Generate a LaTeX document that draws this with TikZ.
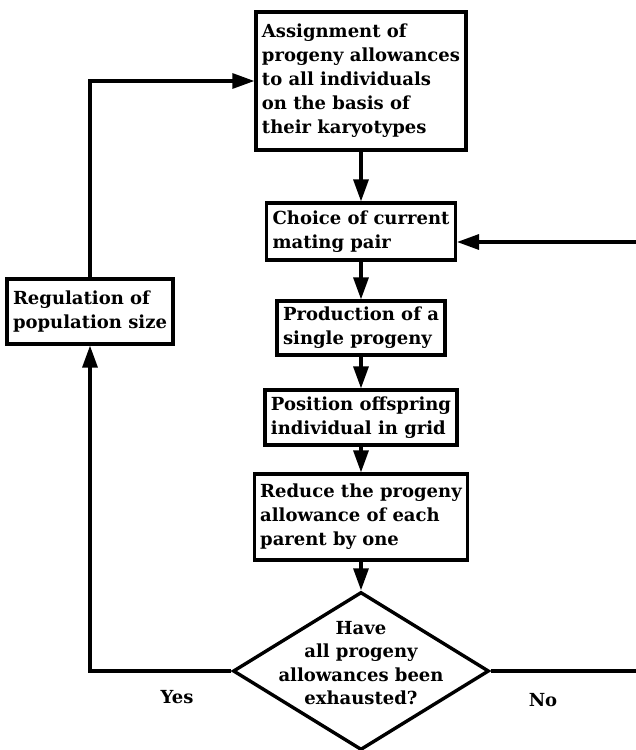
\documentclass[tikz,border=0pt]{standalone}
\usepackage{fontspec}
\setmainfont{DejaVu Serif}
\usetikzlibrary{shapes.geometric,arrows.meta}
\tikzstyle{node_box} = [rectangle, draw, line width=3.2pt, align=left, inner xsep=6pt, inner ysep=0pt, font=\fontsize{18}{24}\selectfont\bfseries]
\tikzstyle{node_decision} = [diamond, draw, line width=3.4pt, inner sep=0pt, minimum width=256pt, minimum height=158pt]
\tikzstyle{node_label} = [inner sep=0pt, align=center, font=\fontsize{18}{23.5}\selectfont\bfseries]
\tikzstyle{edge_flow} = [line width=3.2pt, -{Triangle[length=22pt,width=15pt]}]
\tikzstyle{edge_plain} = [line width=3.2pt]

\begin{document}
\begin{tikzpicture}[x=1pt,y=-1pt]
\useasboundingbox (0,0) rectangle (636,750);

\node (assign) at (361,81) [node_box, minimum width=204pt, minimum height=138pt] {Assignment of\\progeny allowances\\to all individuals\\on the basis of\\their karyotypes};
\node (choose) at (361,231.5) [node_box, minimum width=184pt, minimum height=57pt] {Choice of current\\mating pair};
\node (produce) at (361,328) [node_box, minimum width=161pt, minimum height=54pt] {Production of a\\single progeny};
\node (place) at (361,417.5) [node_box, minimum width=173pt, minimum height=55pt] {Position offspring\\individual in grid};
\node (reduce) at (361,517) [node_box, minimum width=204pt, minimum height=86pt] {Reduce the progeny\\allowance of each\\parent by one};
\node (check) at (361,671) [node_decision] {};
\node (question) at (361,663) [node_label] {Have\\all progeny\\allowances been\\exhausted?};
\node (regulate) at (90,311.5) [node_box, minimum width=166pt, minimum height=65pt] {Regulation of\\population size};

\node (yes) at (177,697) [node_label] {Yes};
\node (no) at (543,700) [node_label] {No};

\coordinate (edge_low) at (636,671);
\coordinate (edge_high) at (636,242);

\draw[edge_flow] (assign)--(choose);
\draw[edge_flow] (choose)--(produce);
\draw[edge_flow] (produce)--(place);
\draw[edge_flow] (place)--(reduce);
\draw[edge_flow] (reduce)--(check);

\draw[edge_flow] (check.west) -| (regulate.south);
\draw[edge_flow] (regulate.north) |- (assign.west);
\draw[edge_plain] (check.east)--(edge_low);
\draw[edge_flow] (edge_high)--(edge_high -| choose.east);
\end{tikzpicture}
\end{document}
